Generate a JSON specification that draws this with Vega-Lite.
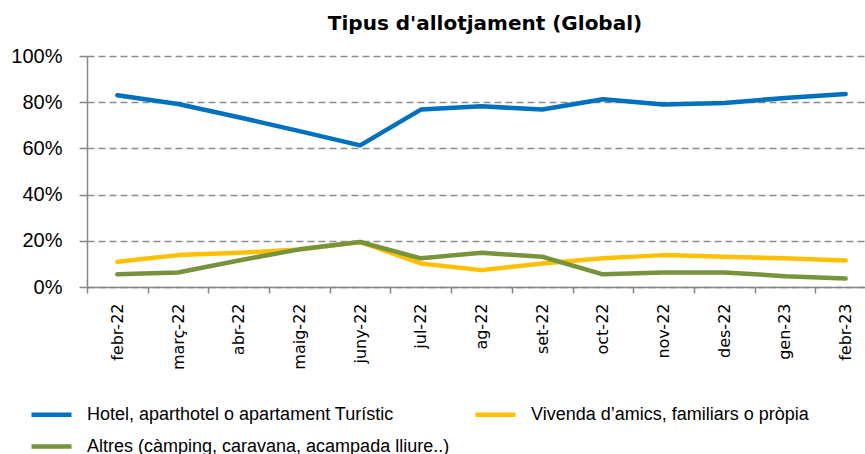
{
  "$schema": "https://vega.github.io/schema/vega-lite/v6.json",
  "autosize": {"type": "none"},
  "width": 778,
  "height": 231,
  "padding": {"left": 87, "top": 56, "right": 0, "bottom": 167},
  "background": "white",
  "title": {
    "text": "Tipus d'allotjament (Global)",
    "font": "DejaVu Sans",
    "fontSize": 20,
    "fontWeight": "bold",
    "color": "#000000",
    "anchor": "middle",
    "frame": "group",
    "baseline": "alphabetic",
    "offset": 26,
    "dx": 9,
    "dy": 30
  },
  "data": {
    "values": [
      {"mes": "febr-22", "tipus": "Hotel, aparthotel o apartament Turístic", "valor": 0.83},
      {"mes": "març-22", "tipus": "Hotel, aparthotel o apartament Turístic", "valor": 0.792},
      {"mes": "abr-22", "tipus": "Hotel, aparthotel o apartament Turístic", "valor": 0.735},
      {"mes": "maig-22", "tipus": "Hotel, aparthotel o apartament Turístic", "valor": 0.675},
      {"mes": "juny-22", "tipus": "Hotel, aparthotel o apartament Turístic", "valor": 0.613},
      {"mes": "jul-22", "tipus": "Hotel, aparthotel o apartament Turístic", "valor": 0.768},
      {"mes": "ag-22", "tipus": "Hotel, aparthotel o apartament Turístic", "valor": 0.782},
      {"mes": "set-22", "tipus": "Hotel, aparthotel o apartament Turístic", "valor": 0.768},
      {"mes": "oct-22", "tipus": "Hotel, aparthotel o apartament Turístic", "valor": 0.813},
      {"mes": "nov-22", "tipus": "Hotel, aparthotel o apartament Turístic", "valor": 0.79},
      {"mes": "des-22", "tipus": "Hotel, aparthotel o apartament Turístic", "valor": 0.797},
      {"mes": "gen-23", "tipus": "Hotel, aparthotel o apartament Turístic", "valor": 0.818},
      {"mes": "febr-23", "tipus": "Hotel, aparthotel o apartament Turístic", "valor": 0.835},
      {"mes": "febr-22", "tipus": "Vivenda d’amics, familiars o pròpia", "valor": 0.109},
      {"mes": "març-22", "tipus": "Vivenda d’amics, familiars o pròpia", "valor": 0.138},
      {"mes": "abr-22", "tipus": "Vivenda d’amics, familiars o pròpia", "valor": 0.148},
      {"mes": "maig-22", "tipus": "Vivenda d’amics, familiars o pròpia", "valor": 0.162},
      {"mes": "juny-22", "tipus": "Vivenda d’amics, familiars o pròpia", "valor": 0.195},
      {"mes": "jul-22", "tipus": "Vivenda d’amics, familiars o pròpia", "valor": 0.102},
      {"mes": "ag-22", "tipus": "Vivenda d’amics, familiars o pròpia", "valor": 0.073},
      {"mes": "set-22", "tipus": "Vivenda d’amics, familiars o pròpia", "valor": 0.102},
      {"mes": "oct-22", "tipus": "Vivenda d’amics, familiars o pròpia", "valor": 0.124},
      {"mes": "nov-22", "tipus": "Vivenda d’amics, familiars o pròpia", "valor": 0.138},
      {"mes": "des-22", "tipus": "Vivenda d’amics, familiars o pròpia", "valor": 0.131},
      {"mes": "gen-23", "tipus": "Vivenda d’amics, familiars o pròpia", "valor": 0.124},
      {"mes": "febr-23", "tipus": "Vivenda d’amics, familiars o pròpia", "valor": 0.115},
      {"mes": "febr-22", "tipus": "Altres (càmping, caravana, acampada lliure..)", "valor": 0.055},
      {"mes": "març-22", "tipus": "Altres (càmping, caravana, acampada lliure..)", "valor": 0.063},
      {"mes": "abr-22", "tipus": "Altres (càmping, caravana, acampada lliure..)", "valor": 0.115},
      {"mes": "maig-22", "tipus": "Altres (càmping, caravana, acampada lliure..)", "valor": 0.163},
      {"mes": "juny-22", "tipus": "Altres (càmping, caravana, acampada lliure..)", "valor": 0.195},
      {"mes": "jul-22", "tipus": "Altres (càmping, caravana, acampada lliure..)", "valor": 0.124},
      {"mes": "ag-22", "tipus": "Altres (càmping, caravana, acampada lliure..)", "valor": 0.148},
      {"mes": "set-22", "tipus": "Altres (càmping, caravana, acampada lliure..)", "valor": 0.131},
      {"mes": "oct-22", "tipus": "Altres (càmping, caravana, acampada lliure..)", "valor": 0.055},
      {"mes": "nov-22", "tipus": "Altres (càmping, caravana, acampada lliure..)", "valor": 0.063},
      {"mes": "des-22", "tipus": "Altres (càmping, caravana, acampada lliure..)", "valor": 0.063},
      {"mes": "gen-23", "tipus": "Altres (càmping, caravana, acampada lliure..)", "valor": 0.047},
      {"mes": "febr-23", "tipus": "Altres (càmping, caravana, acampada lliure..)", "valor": 0.037}
    ]
  },
  "mark": {"type": "line", "strokeWidth": 4.5, "strokeCap": "round", "strokeJoin": "round"},
  "encoding": {
    "x": {
      "field": "mes",
      "type": "nominal",
      "sort": null,
      "title": null,
      "scale": {"type": "band", "paddingInner": 0, "paddingOuter": 0, "rangeMax": 789},
      "axis": {
        "labelAngle": -90,
        "labelFont": "DejaVu Sans",
        "labelFontSize": 16,
        "labelColor": "#000000",
        "labelPadding": 10,
        "tickBand": "extent",
        "tickSize": 6,
        "tickColor": "#868686",
        "tickWidth": 1.5,
        "domainColor": "#868686",
        "domainWidth": 1.5,
        "grid": false
      }
    },
    "y": {
      "field": "valor",
      "type": "quantitative",
      "title": null,
      "scale": {"domain": [0, 1]},
      "axis": {
        "format": ".0%",
        "values": [0, 0.2, 0.4, 0.6, 0.8, 1],
        "labelFont": "Liberation Sans",
        "labelFontSize": 20,
        "labelColor": "#000000",
        "labelPadding": 17,
        "tickSize": 8,
        "tickColor": "#868686",
        "tickWidth": 1.5,
        "domainColor": "#868686",
        "domainWidth": 1.5,
        "grid": true,
        "gridColor": "#8c8c8c",
        "gridWidth": 1.3,
        "gridDash": [7, 4]
      }
    },
    "color": {
      "field": "tipus",
      "type": "nominal",
      "sort": null,
      "scale": {
        "domain": ["Hotel, aparthotel o apartament Turístic", "Vivenda d’amics, familiars o pròpia", "Altres (càmping, caravana, acampada lliure..)"],
        "range": ["#0070C0", "#FFC000", "#77933C"]
      },
      "legend": {
        "title": null,
        "orient": "none",
        "legendX": -58,
        "legendY": 336,
        "columns": 2,
        "direction": "horizontal",
        "padding": 0,
        "symbolType": "stroke",
        "symbolSize": 1600,
        "symbolStrokeWidth": 4.5,
        "symbolOffset": 0,
        "labelFont": "Liberation Sans",
        "labelFontSize": 18,
        "labelColor": "#000000",
        "labelOffset": 13,
        "labelLimit": 500,
        "columnPadding": 16,
        "rowPadding": -11
      }
    }
  },
  "config": {"view": {"stroke": null}}
}
